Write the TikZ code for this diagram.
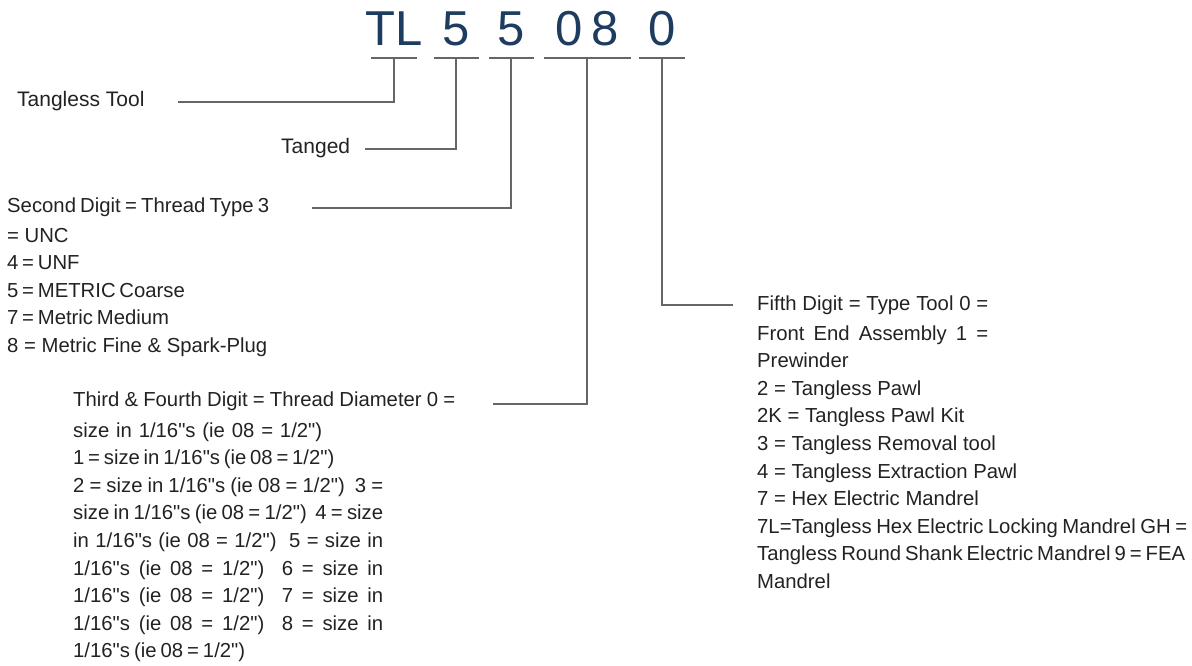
\documentclass[tikz,border=0pt]{standalone}
\usepackage{fontspec}
\setmainfont{Liberation Sans}[Ligatures=TeXOff]
\definecolor{codeblue}{RGB}{30,60,96}
\definecolor{leadgray}{RGB}{102,102,102}
\definecolor{textgray}{RGB}{34,34,34}
\newcommand{\fitline}[2]{\hbox to #1pt{#2}}

\begin{document}
\begin{tikzpicture}[
    x=1pt, y=-1pt,
    % Styles
    code_part/.style={font=\fontsize{49}{49}\selectfont, text=codeblue, inner sep=0pt, text height=35pt, text depth=13pt, anchor=base},
    leader_line/.style={leadgray, line width=2.2pt},
    tag_text/.style={font=\fontsize{21}{27.6}\selectfont, text=textgray, inner sep=0pt, anchor=base west},
    block_text/.style={font=\fontsize{20.3}{27.6}\selectfont, text=textgray, inner sep=0pt, anchor=north west, align=left}
]

    % ==========================================
    % 1. CANVAS
    % ==========================================
    \useasboundingbox (0,0) rectangle (1192,665);

    % ==========================================
    % 2. PART NUMBER
    % ==========================================
    \node[code_part] (code_tl) at (394,45) {TL};
    \node[code_part] (code_d1) at (456,45) {5};
    \node[code_part] (code_d2) at (511,45) {5};
    \node[code_part] (code_d34) at (587,45) {0\kern9pt8};
    \node[code_part] (code_d5) at (662,45) {0};

    % Underlines below each part
    \foreach \c/\w in {code_tl/23, code_d1/22.5, code_d2/22.5, code_d34/43.5, code_d5/23} {
        \draw[leader_line] ([xshift=-\w pt]\c.south) -- ([xshift=\w pt]\c.south);
    }

    % ==========================================
    % 3. LEADER END POINTS
    % ==========================================
    \coordinate (end_tool) at (178,102);
    \coordinate (end_tanged) at (365,149);
    \coordinate (end_type) at (312,208);
    \coordinate (end_dia) at (493,404);
    \coordinate (end_kind) at (733,305);

    % ==========================================
    % 4. LABELS
    % ==========================================
    \node[tag_text] (lbl_tool) at (17,106) {Tangless Tool};
    \node[tag_text] (lbl_tanged) at (281,153) {Tanged};

    \node[block_text] (lbl_type) at (7,197.2) {
        \fitline{262}{Second Digit = Thread Type 3}\\[2.4pt]
        = UNC\\
        \fitline{69}{4 = UNF}\\
        \fitline{171}{5 = METRIC Coarse}\\
        \fitline{157}{7 = Metric Medium}\\
        8 = Metric Fine \& Spark-Plug
    };

    \node[block_text] (lbl_dia) at (73,391.2) {
        \fitline{382}{Third \& Fourth Digit = Thread Diameter 0 =}\\[3.4pt]
        \fitline{249}{size in 1/16"s (ie 08 = 1/2")}\\
        \fitline{260}{1 = size in 1/16"s (ie 08 = 1/2")}\\
        \fitline{310}{2 = size in 1/16"s (ie 08 = 1/2") \ 3 =}\\
        \fitline{310}{size in 1/16"s (ie 08 = 1/2") \ 4 = size}\\
        \fitline{310}{in 1/16"s (ie 08 = 1/2") \ 5 = size in}\\
        \fitline{310}{1/16"s (ie 08 = 1/2") \ 6 = size in}\\
        \fitline{310}{1/16"s (ie 08 = 1/2") \ 7 = size in}\\
        \fitline{310}{1/16"s (ie 08 = 1/2") \ 8 = size in}\\
        \fitline{172}{1/16"s (ie 08 = 1/2")}
    };

    \node[block_text] (lbl_kind) at (757,295.2) {
        \fitline{231}{Fifth Digit = Type Tool 0 =}\\[2.4pt]
        \fitline{231}{Front End Assembly 1 =}\\
        Prewinder\\
        2 = Tangless Pawl\\
        2K = Tangless Pawl Kit\\
        3 = Tangless Removal tool\\
        4 = Tangless Extraction Pawl\\
        7 = Hex Electric Mandrel\\
        \fitline{430}{7L=Tangless Hex Electric Locking Mandrel GH =}\\
        \fitline{428}{Tangless Round Shank Electric Mandrel 9 = FEA}\\
        Mandrel
    };

    % ==========================================
    % 5. LEADERS (part -> label)
    % ==========================================
    \draw[leader_line] (code_tl.south) |- (end_tool);
    \draw[leader_line] (code_d1.south) |- (end_tanged);
    \draw[leader_line] (code_d2.south) |- (end_type);
    \draw[leader_line] (code_d34.south) |- (end_dia);
    \draw[leader_line] (code_d5.south) |- (end_kind);

\end{tikzpicture}
\end{document}
